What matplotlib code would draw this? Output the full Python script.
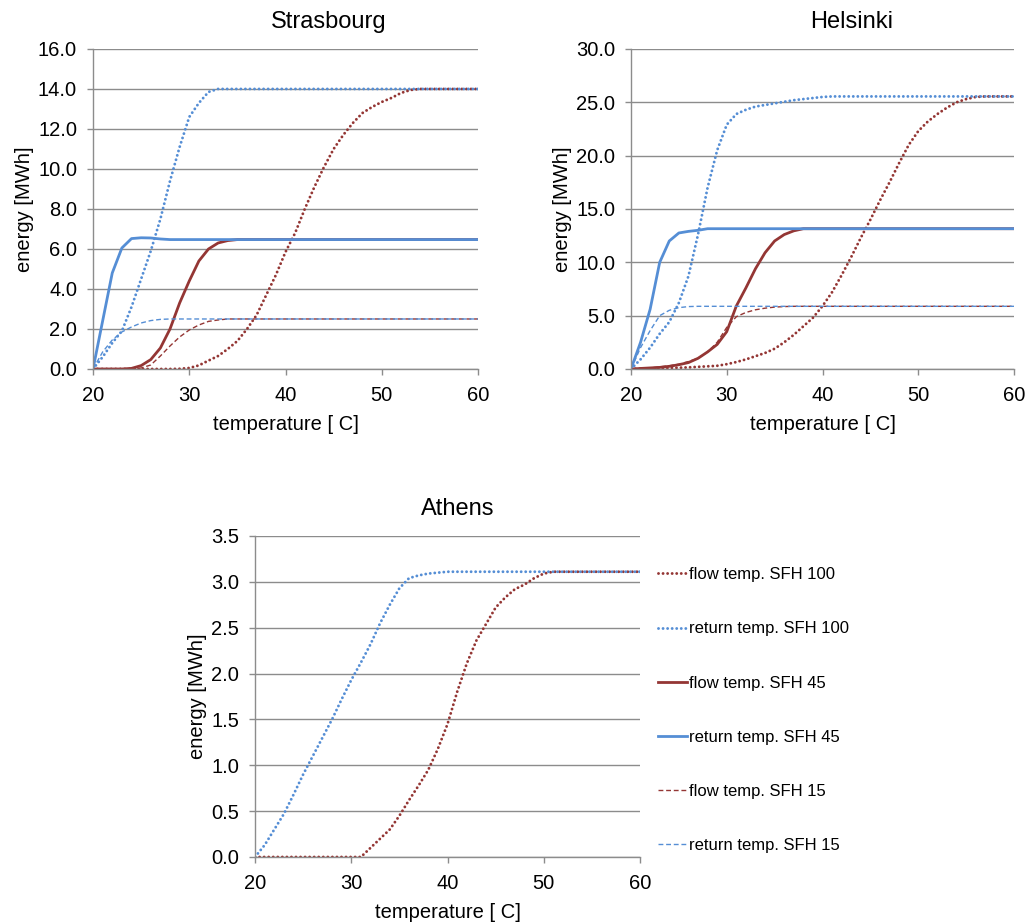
import matplotlib
matplotlib.use('Agg')
import matplotlib.pyplot as plt
from matplotlib.ticker import FormatStrFormatter

plt.rcParams['font.family'] = ['Liberation Sans', 'DejaVu Sans']

RED = '#943634'
BLUE = '#558ed5'
GRID = '#8c8c8c'

# supply temperature steps in C
temps = list(range(20, 61))

labels = ['flow temp. SFH 100', 'return temp. SFH 100',
          'flow temp. SFH 45', 'return temp. SFH 45',
          'flow temp. SFH 15', 'return temp. SFH 15']

# Strasbourg, energy in MWh
str_flow100 = [0, 0, 0, 0, 0, 0, 0, 0, 0, 0.01, 0.05, 0.18, 0.42, 0.65, 1.0, 1.4, 2.0, 2.7, 3.7, 4.7,
               5.85, 6.8, 8.0, 9.1, 10.1, 11.0, 11.7, 12.3, 12.8, 13.1, 13.35, 13.55, 13.8, 13.95, 14.0,
               14.0, 14.0, 14.0, 14.0, 14.0, 14.0]
str_ret100 = [0, 0.6, 1.3, 1.9, 3.1, 4.5, 5.9, 7.5, 9.4, 11.1, 12.6, 13.3, 13.85, 14.0, 14.0, 14.0,
              14.0, 14.0, 14.0, 14.0, 14.0, 14.0, 14.0, 14.0, 14.0, 14.0, 14.0, 14.0, 14.0, 14.0, 14.0,
              14.0, 14.0, 14.0, 14.0, 14.0, 14.0, 14.0, 14.0, 14.0, 14.0]
str_flow45 = [0, 0, 0, 0, 0.03, 0.17, 0.47, 1.05, 2.0, 3.3, 4.4, 5.4, 6.0, 6.3, 6.42, 6.47, 6.47,
              6.47, 6.47, 6.47, 6.47, 6.47, 6.47, 6.47, 6.47, 6.47, 6.47, 6.47, 6.47, 6.47, 6.47,
              6.47, 6.47, 6.47, 6.47, 6.47, 6.47, 6.47, 6.47, 6.47, 6.47]
str_ret45 = [0, 2.4, 4.8, 6.05, 6.52, 6.56, 6.55, 6.5, 6.47, 6.47, 6.47, 6.47, 6.47, 6.47, 6.47,
             6.47, 6.47, 6.47, 6.47, 6.47, 6.47, 6.47, 6.47, 6.47, 6.47, 6.47, 6.47, 6.47, 6.47,
             6.47, 6.47, 6.47, 6.47, 6.47, 6.47, 6.47, 6.47, 6.47, 6.47, 6.47, 6.47]
str_flow15 = [0, 0, 0, 0, 0, 0.05, 0.2, 0.65, 1.15, 1.6, 1.95, 2.2, 2.38, 2.45, 2.5, 2.5, 2.5, 2.5,
              2.5, 2.5, 2.5, 2.5, 2.5, 2.5, 2.5, 2.5, 2.5, 2.5, 2.5, 2.5, 2.5, 2.5, 2.5, 2.5, 2.5,
              2.5, 2.5, 2.5, 2.5, 2.5, 2.5]
str_ret15 = [0, 0.85, 1.45, 1.85, 2.1, 2.3, 2.42, 2.48, 2.5, 2.5, 2.5, 2.5, 2.5, 2.5, 2.5, 2.5, 2.5,
             2.5, 2.5, 2.5, 2.5, 2.5, 2.5, 2.5, 2.5, 2.5, 2.5, 2.5, 2.5, 2.5, 2.5, 2.5, 2.5, 2.5,
             2.5, 2.5, 2.5, 2.5, 2.5, 2.5, 2.5]

# Helsinki
hel_flow100 = [0, 0.02, 0.05, 0.08, 0.1, 0.12, 0.15, 0.2, 0.25, 0.3, 0.45, 0.65, 0.9, 1.2, 1.5, 1.9,
               2.5, 3.2, 4.0, 4.8, 5.9, 7.2, 8.8, 10.5, 12.3, 14.0, 15.8, 17.5, 19.3, 21.0, 22.3,
               23.2, 23.9, 24.5, 25.0, 25.3, 25.5, 25.55, 25.55, 25.55, 25.55]
hel_ret100 = [0, 0.9, 2.0, 3.3, 4.4, 6.2, 8.7, 12.6, 17.0, 20.5, 22.9, 23.9, 24.3, 24.6, 24.75, 24.9,
              25.05, 25.2, 25.3, 25.4, 25.5, 25.55, 25.55, 25.55, 25.55, 25.55, 25.55, 25.55, 25.55,
              25.55, 25.55, 25.55, 25.55, 25.55, 25.55, 25.55, 25.55, 25.55, 25.55, 25.55, 25.55]
hel_flow45 = [0, 0.05, 0.1, 0.15, 0.25, 0.4, 0.6, 1.0, 1.6, 2.3, 3.5, 5.9, 7.6, 9.4, 10.9, 12.0, 12.6,
              12.95, 13.15, 13.15, 13.15, 13.15, 13.15, 13.15, 13.15, 13.15, 13.15, 13.15, 13.15,
              13.15, 13.15, 13.15, 13.15, 13.15, 13.15, 13.15, 13.15, 13.15, 13.15, 13.15, 13.15]
hel_ret45 = [0, 2.5, 5.6, 10.0, 12.0, 12.75, 12.9, 13.0, 13.15, 13.15, 13.15, 13.15, 13.15, 13.15,
             13.15, 13.15, 13.15, 13.15, 13.15, 13.15, 13.15, 13.15, 13.15, 13.15, 13.15, 13.15,
             13.15, 13.15, 13.15, 13.15, 13.15, 13.15, 13.15, 13.15, 13.15, 13.15, 13.15, 13.15,
             13.15, 13.15, 13.15]
hel_flow15 = [0, 0.05, 0.1, 0.2, 0.3, 0.45, 0.7, 1.0, 1.6, 2.5, 3.9, 4.9, 5.3, 5.55, 5.7, 5.8, 5.85,
              5.875, 5.875, 5.875, 5.875, 5.875, 5.875, 5.875, 5.875, 5.875, 5.875, 5.875, 5.875,
              5.875, 5.875, 5.875, 5.875, 5.875, 5.875, 5.875, 5.875, 5.875, 5.875, 5.875, 5.875]
hel_ret15 = [0, 2.0, 3.6, 5.0, 5.5, 5.75, 5.85, 5.875, 5.875, 5.875, 5.875, 5.875, 5.875, 5.875,
             5.875, 5.875, 5.875, 5.875, 5.875, 5.875, 5.875, 5.875, 5.875, 5.875, 5.875, 5.875,
             5.875, 5.875, 5.875, 5.875, 5.875, 5.875, 5.875, 5.875, 5.875, 5.875, 5.875, 5.875,
             5.875, 5.875, 5.875]

# Athens - only the SFH 100 curves show up
ath_flow100 = [0, 0, 0, 0, 0, 0, 0, 0, 0, 0, 0, 0, 0.1, 0.2, 0.3, 0.45, 0.62, 0.78, 0.95, 1.18, 1.45,
               1.8, 2.11, 2.36, 2.54, 2.72, 2.83, 2.92, 2.97, 3.04, 3.09, 3.11, 3.11, 3.11, 3.11,
               3.11, 3.11, 3.11, 3.11, 3.11, 3.11]
ath_ret100 = [0, 0.13, 0.3, 0.47, 0.68, 0.9, 1.1, 1.3, 1.5, 1.72, 1.93, 2.12, 2.32, 2.55, 2.75, 2.93,
              3.04, 3.07, 3.09, 3.1, 3.11, 3.11, 3.11, 3.11, 3.11, 3.11, 3.11, 3.11, 3.11, 3.11,
              3.11, 3.11, 3.11, 3.11, 3.11, 3.11, 3.11, 3.11, 3.11, 3.11, 3.11]
ath_flow45 = []
ath_ret45 = []
ath_flow15 = []
ath_ret15 = []

# round dots for the SFH 100 curves, dashes for SFH 15
DOT = (0, (0.01, 1.55))
DASH = (0, (3.5, 2))
styles = [
    dict(color=RED, lw=2.1, ls=DOT, dash_capstyle='round'),
    dict(color=BLUE, lw=2.1, ls=DOT, dash_capstyle='round'),
    dict(color=RED, lw=2.0, ls='-'),
    dict(color=BLUE, lw=2.0, ls='-'),
    dict(color=RED, lw=1.0, ls=DASH, dash_capstyle='butt'),
    dict(color=BLUE, lw=1.0, ls=DASH, dash_capstyle='butt'),
]


def draw_panel(ax, series, ymax, ystep, title, tx):
    for s, st, lab in zip(series, styles, labels):
        ax.plot(temps[:len(s)], s, label=lab, **st)
    ax.set_xlim(20, 60)
    ax.set_ylim(0, ymax)
    ax.set_xticks([20, 30, 40, 50, 60])
    ax.set_yticks([i * ystep for i in range(int(round(ymax / ystep)) + 1)])
    ax.yaxis.set_major_formatter(FormatStrFormatter('%.1f'))
    ax.grid(axis='y', color=GRID, lw=1.0)
    ax.set_axisbelow(True)
    for sp in ['top', 'right']:
        ax.spines[sp].set_visible(False)
    for sp in ['left', 'bottom']:
        ax.spines[sp].set_color(GRID)
        ax.spines[sp].set_linewidth(1.0)
    ax.tick_params(axis='both', colors=GRID, labelcolor='black', labelsize=14.5,
                   length=4.5, width=1.0, direction='out')
    ax.tick_params(axis='y', pad=7)
    ax.tick_params(axis='x', pad=8)
    ax.set_xlabel('temperature [ C]', fontsize=14.5, labelpad=7)
    ax.set_ylabel('energy [MWh]', fontsize=14.5, labelpad=3)
    fig = ax.figure
    bb = ax.get_position()
    fig.text(tx, bb.y1 + 21 / 922, title, fontsize=17, ha='center', va='baseline')


fig = plt.figure(figsize=(10.3, 9.22), dpi=100)

ax1 = fig.add_axes([0.0903, 0.5998, 0.3738, 0.3471])
draw_panel(ax1, [str_flow100, str_ret100, str_flow45, str_ret45, str_flow15, str_ret15],
           16, 2, 'Strasbourg', 0.319)

ax2 = fig.add_axes([0.6126, 0.5998, 0.3719, 0.3471])
draw_panel(ax2, [hel_flow100, hel_ret100, hel_flow45, hel_ret45, hel_flow15, hel_ret15],
           30, 5, 'Helsinki', 0.827)

ax3 = fig.add_axes([0.2476, 0.0705, 0.3738, 0.3482])
draw_panel(ax3, [ath_flow100, ath_ret100, ath_flow45, ath_ret45, ath_flow15, ath_ret15],
           3.5, 0.5, 'Athens', 0.444)

ax3.legend(loc='upper left', bbox_to_anchor=(0.6388, 0.3847), bbox_transform=fig.transFigure,
           frameon=False, fontsize=12, handlelength=1.75, handletextpad=0.1,
           labelspacing=2.35, borderpad=0, borderaxespad=0)

fig.savefig('out.png', dpi=100)
